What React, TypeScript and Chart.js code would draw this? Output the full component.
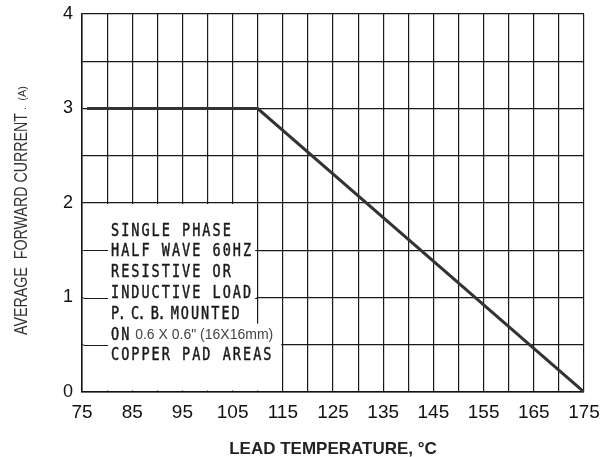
import React, { useEffect, useRef } from "react";
import { Chart, registerables } from "chart.js";

Chart.register(...registerables);

// ---- data ----
const temperature = [76, 110, 175];
const forwardCurrent = [3, 3, 0];
const xLabelValues = [75, 85, 95, 105, 115, 125, 135, 145, 155, 165, 175];
const yLabelValues = [0, 1, 2, 3, 4];
const noteRows = [
  "SINGLE PHASE",
  "HALF WAVE 60HZ",
  "RESISTIVE OR",
  "INDUCTIVE LOAD",
  "P. C. B. MOUNTED",
  "ON",
  "COPPER PAD AREAS",
];
const noteDetail = '0.6 X 0.6" (16X16mm)';
const xTitle = "LEAD TEMPERATURE, °C";
const yTitle = "AVERAGE  FORWARD CURRENT";
const yUnit = " .  (A)";

const GRID = "#1a1a1a";
const GRID_W = 1.2;
const MONO = '18px "DejaVu Sans Mono", "Liberation Mono", monospace';
const SX = 0.75;
const LS = 2.7;
const NOTE_COLOR = "#1a1a1a";

function segmentsFor(row: string) {
  if (row.startsWith("P. C. B. ")) {
    return [
      { text: "P. C. B. ", font: MONO, ls: -2.0, sx: SX, color: NOTE_COLOR, bold: true },
      { text: row.slice(9), font: MONO, ls: LS, sx: SX, color: NOTE_COLOR, bold: true },
    ];
  }
  if (row === "ON") {
    return [
      { text: "ON", font: MONO, ls: LS, sx: SX, color: NOTE_COLOR, bold: true },
      { text: " " + noteDetail, font: '14px "Liberation Sans", Arial, sans-serif', ls: 0, sx: 1, color: "#444", bold: false },
    ];
  }
  return [{ text: row, font: MONO, ls: LS, sx: SX, color: NOTE_COLOR, bold: true }];
}

function measure(ctx: CanvasRenderingContext2D, seg: any) {
  ctx.font = seg.font;
  (ctx as any).letterSpacing = "0px";
  const w = ctx.measureText(seg.text).width + seg.ls * seg.text.length;
  return w * seg.sx;
}

const annotate = {
  id: "annotate",
  beforeDatasetsDraw(chart: any) {
    const { ctx, scales } = chart;
    const x = scales.x;
    const y = scales.y;
    const X = (v: number) => x.getPixelForValue(v);
    const Y = (v: number) => y.getPixelForValue(v);
    ctx.save();
    ctx.fillStyle = "#fff";
    const l = X(75) + 1.5;
    const r = X(110) - 1;
    const t = Y(2) + 1;
    const b = Y(0) - 1.5;
    ctx.fillRect(l, t, r - l, b - t);
    ctx.fillRect(X(110) - 2, Y(0.68), X(115) - 1.5 - (X(110) - 2), b - Y(0.68));

    ctx.strokeStyle = GRID;
    ctx.lineWidth = GRID_W;
    ctx.beginPath();
    for (const v of [1.5, 1]) {
      const yy = Math.round(Y(v)) + 0.5;
      ctx.moveTo(l, yy);
      ctx.lineTo(X(110), yy);
    }
    const y05 = Math.round(Y(0.5)) + 0.5;
    ctx.moveTo(l, y05);
    ctx.lineTo(X(75) + 26, y05);
    ctx.stroke();

    // note text
    const left = X(75) + 29;
    const rowH = 20.8;
    const y0 = Y(2) + 27;
    const rows = noteRows.map((row, i) => {
      const segs = segmentsFor(row);
      const widths = segs.map((s) => measure(ctx, s));
      return { segs, widths, total: widths.reduce((a, c) => a + c, 0), cy: y0 + i * rowH };
    });
    ctx.fillStyle = "#fff";
    for (const r0 of rows) {
      ctx.fillRect(left - 3, r0.cy - rowH / 2, r0.total + 5, rowH);
    }
    ctx.textBaseline = "middle";
    ctx.textAlign = "left";
    for (const r0 of rows) {
      let cx = left;
      r0.segs.forEach((s: any, i: number) => {
        ctx.save();
        ctx.font = s.font;
        (ctx as any).letterSpacing = s.ls + "px";
        ctx.fillStyle = s.color;
        ctx.translate(cx, r0.cy + 1);
        ctx.scale(s.sx, 1);
        ctx.fillText(s.text, 0, 0);
        if (s.bold) {
          ctx.strokeStyle = s.color;
          ctx.lineWidth = 0.5;
          ctx.strokeText(s.text, 0, 0);
        }
        ctx.restore();
        cx += r0.widths[i];
      });
    }
    ctx.restore();
  },
  afterDraw(chart: any) {
    const { ctx, chartArea } = chart;
    ctx.save();
    // x title
    ctx.font = 'bold 17px "Liberation Sans", Arial, sans-serif';
    ctx.fillStyle = "#222";
    ctx.textAlign = "center";
    ctx.textBaseline = "middle";
    ctx.fillText(xTitle, (chartArea.left + chartArea.right) / 2, 449);
    // y title
    ctx.translate(27, 335);
    ctx.rotate(-Math.PI / 2);
    ctx.textAlign = "left";
    ctx.textBaseline = "alphabetic";
    ctx.fillStyle = "#333";
    ctx.font = '18px "Liberation Sans", Arial, sans-serif';
    const w = ctx.measureText(yTitle).width;
    const s = 222 / w;
    ctx.save();
    ctx.scale(s, 1);
    ctx.fillText(yTitle, 0, 0);
    ctx.restore();
    ctx.font = '11px "Liberation Sans", Arial, sans-serif';
    ctx.fillText(yUnit, 222, -1);
    ctx.restore();
  },
};

function zeroPad(s: any) {
  s.paddingTop = 0;
  s.paddingBottom = 0;
  s.paddingLeft = 0;
  s.paddingRight = 0;
}

export default function App() {
  const ref = useRef<HTMLCanvasElement | null>(null);
  useEffect(() => {
    if (!ref.current) return;
    const chart = new Chart(ref.current, {
      type: "line",
      data: {
        datasets: [
          {
            data: temperature.map((t, i) => ({ x: t, y: forwardCurrent[i] })),
            borderColor: "#333",
            borderWidth: 3,
            pointRadius: 0,
            tension: 0,
            fill: false,
          },
        ],
      },
      options: {
        animation: false,
        responsive: true,
        maintainAspectRatio: false,
        layout: { padding: { top: 14, right: 21, left: 0, bottom: 0 } },
        plugins: { legend: { display: false }, tooltip: { enabled: false }, title: { display: false } },
        scales: {
          x: {
            type: "linear",
            min: 75,
            max: 175,
            afterFit: (s: any) => {
              s.height = 65;
              zeroPad(s);
            },
            ticks: {
              stepSize: 5,
              autoSkip: false,
              maxRotation: 0,
              padding: 9,
              color: "#111",
              font: { family: '"Liberation Sans", Arial, sans-serif', size: 19 },
              callback: (v: any) => (xLabelValues.includes(Number(v)) ? String(v) : ""),
            },
            grid: { color: GRID, lineWidth: GRID_W, drawTicks: false },
            border: { color: "#111", width: 1.5 },
          },
          y: {
            min: 0,
            max: 4,
            afterFit: (s: any) => {
              s.width = 82;
              zeroPad(s);
            },
            ticks: {
              stepSize: 0.5,
              autoSkip: false,
              padding: 9,
              color: "#111",
              font: { family: '"Liberation Sans", Arial, sans-serif', size: 18 },
              callback: (v: any) => (yLabelValues.includes(Number(v)) ? String(v) : ""),
            },
            grid: { color: GRID, lineWidth: GRID_W, drawTicks: false },
            border: { color: "#111", width: 1.5 },
          },
        },
      },
      plugins: [annotate],
    });
    return () => chart.destroy();
  }, []);
  return (
    <div style={{ position: "fixed", left: 0, top: 0, width: 605, height: 457, background: "#fff" }}>
      <div style={{ position: "relative", width: 605, height: 457 }}>
        <canvas ref={ref} />
      </div>
    </div>
  );
}
